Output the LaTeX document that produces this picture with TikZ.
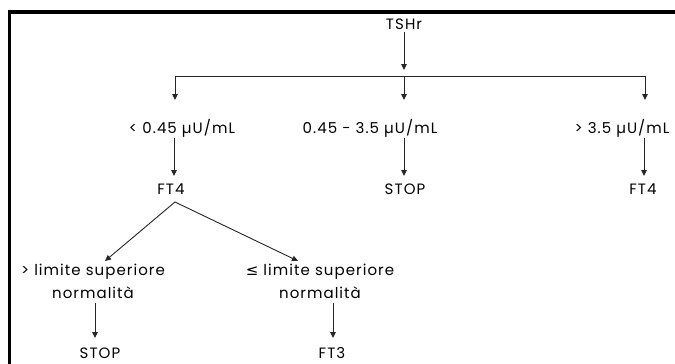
\documentclass[tikz,border=0pt]{standalone}
\usepackage{fontspec}
\setmainfont{Poppins}[LetterSpace=7]
\newfontfamily\symfont{DejaVu Sans}
\usetikzlibrary{arrows.meta}
\begin{document}
\begin{tikzpicture}[x=1pt,y=-1pt,
  lbl/.style={inner sep=0pt,font=\fontsize{15}{23}\selectfont,align=center,text=black},
  conn/.style={draw=black!85,line width=0.9pt},
  arr/.style={conn,-{Triangle[length=6pt,width=5.5pt]}}]
\useasboundingbox (0,0) rectangle (675,364);
% frame
\draw[line width=3.5pt,black] (9.5,366) -- (9.5,12) -- (680,12);
% nodes
\node[lbl] (tsh) at (404,24) {TSHr};
\node[lbl] (lo) at (182,128) {< 0.45 µU/mL};
\node[lbl] (mid) at (370,128) {0.45 - 3.5 µU/mL};
\node[lbl] (hi) at (622,128) {> 3.5 µU/mL};
\node[lbl] (ft4a) at (171,189) {FT4};
\node[lbl] (stopa) at (405,189) {STOP};
\node[lbl] (ft4b) at (643,189) {FT4};
\node[lbl] (gt) at (93,281) {> limite superiore\\normalità};
\node[lbl] (le) at (320,281) {{\symfont ≤} limite superiore\\normalità};
\node[lbl] (stopb) at (100,353) {STOP};
\node[lbl] (ft3) at (332,353) {FT3};
% coordinates
\coordinate (t0) at (404,32);
\coordinate (t1) at (404,70);
\coordinate (bl) at (175,76);
\coordinate (bm) at (404,76);
\coordinate (br) at (645,76);
\coordinate (al) at (175,100);
\coordinate (am) at (404,100);
\coordinate (ar) at (645,100);
\coordinate (l0) at (174,138);
\coordinate (l1) at (174,176);
\coordinate (m0) at (404,138);
\coordinate (m1) at (404,176);
\coordinate (h0) at (644,138);
\coordinate (h1) at (644,176);
\coordinate (apex) at (175,202);
\coordinate (gl) at (105,261);
\coordinate (gr) at (298,261);
\coordinate (s0) at (95,303);
\coordinate (s1) at (95,338);
\coordinate (f0) at (333,303);
\coordinate (f1) at (333,338);
% connectors
\draw[arr] (t0) -- (t1);
\draw[conn] (bl) -- (br);
\draw[arr] (bl) -- (al);
\draw[arr] (bm) -- (am);
\draw[arr] (br) -- (ar);
\draw[arr] (l0) -- (l1);
\draw[arr] (m0) -- (m1);
\draw[arr] (h0) -- (h1);
\draw[arr] (apex) -- (gl);
\draw[arr] (apex) -- (gr);
\draw[arr] (s0) -- (s1);
\draw[arr] (f0) -- (f1);
\end{tikzpicture}
\end{document}
